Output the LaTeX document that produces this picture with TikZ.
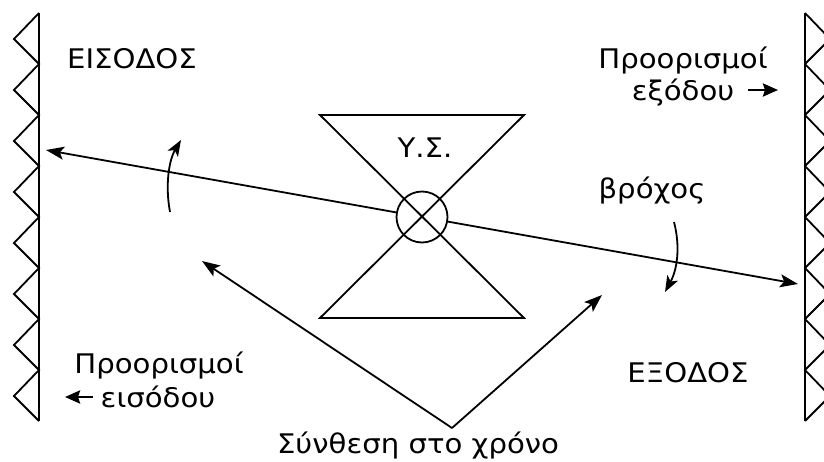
\documentclass[tikz,border=0pt]{standalone}
\usepackage{fontspec}
\setmainfont[FakeStretch=1.08]{DejaVu Sans}
\usetikzlibrary{arrows.meta}
\begin{document}
\begin{tikzpicture}[x=1pt,y=-1pt,line width=1.8pt,
  >={Stealth[length=18pt,width=13pt,inset=4pt]},
  lbl/.style={font=\fontsize{27}{34}\selectfont,inner sep=0pt,anchor=base},
  smallarr/.style={line width=2.6pt,-{Stealth[length=15pt,width=13pt,inset=2pt]}}]
\useasboundingbox (0,0) rectangle (824,461);
\clip (0,0) rectangle (824,461);
% τοίχοι με οδόντωση
\draw (39,13) -- (39,421);
\draw (39,13) \foreach \i in {0,...,7} {-- (14,{39+51*\i}) -- (39,{64+51*\i})};
\draw (805,13) -- (805,421);
\draw (805,13) \foreach \i in {0,...,7} {-- (830,{39+51*\i}) -- (805,{64+51*\i})};
% Υ.Σ.
\draw (320,115) -- (524,115) -- (320,318) -- (524,318) -- cycle;
\node[circle,draw,minimum size=51pt,inner sep=0pt] (ys) at (422,217) {};
\node[lbl] (yslbl) at (425,157) {Υ.Σ.};
% βρόχος
\coordinate (inL) at (46,150);
\coordinate (outR) at (798,284);
\draw[->] (ys) -- (inL);
\draw[->] (ys) -- (outR);
\coordinate (cl1) at (170,212);
\coordinate (cl2) at (181,140);
\draw[->,>={Stealth[length=16pt,width=12pt,inset=4pt]}]
  (cl1) .. controls (165,185) and (169,160) .. (cl2);
\coordinate (cr1) at (674,222);
\coordinate (cr2) at (665,292);
\draw[->,>={Stealth[length=16pt,width=12pt,inset=4pt]}]
  (cr1) .. controls (680,245) and (678,268) .. (cr2);
% κείμενα
\node[lbl] (eis) at (132,68) {ΕΙΣΟΔΟΣ};
\node[lbl] (exo) at (688,382) {ΕΞΟΔΟΣ};
\node[lbl] (broxos) at (652,198) {βρόχος};
\node[lbl] (pe1) at (683,68) {Προορισμοί};
\node[lbl] (pe2) at (683,100) {εξόδου};
\node[lbl] (pi1) at (159,373) {Προορισμοί};
\node[lbl] (pi2) at (158,407) {εισόδου};
\node[lbl] (syn) at (418,453) {Σύνθεση στο χρόνο};
% μικρά βέλη
\coordinate (pia) at (93,397);
\coordinate (pib) at (65,397);
\draw[smallarr] (pia) -- (pib);
\coordinate (pea) at (748,90);
\coordinate (peb) at (778,90);
\draw[smallarr] (pea) -- (peb);
% σύνθεση
\coordinate (synv) at (452,428);
\coordinate (synL) at (202,261);
\coordinate (synR) at (602,295);
\draw[->] (synv) -- (synL);
\draw[->] (synv) -- (synR);
\end{tikzpicture}
\end{document}
